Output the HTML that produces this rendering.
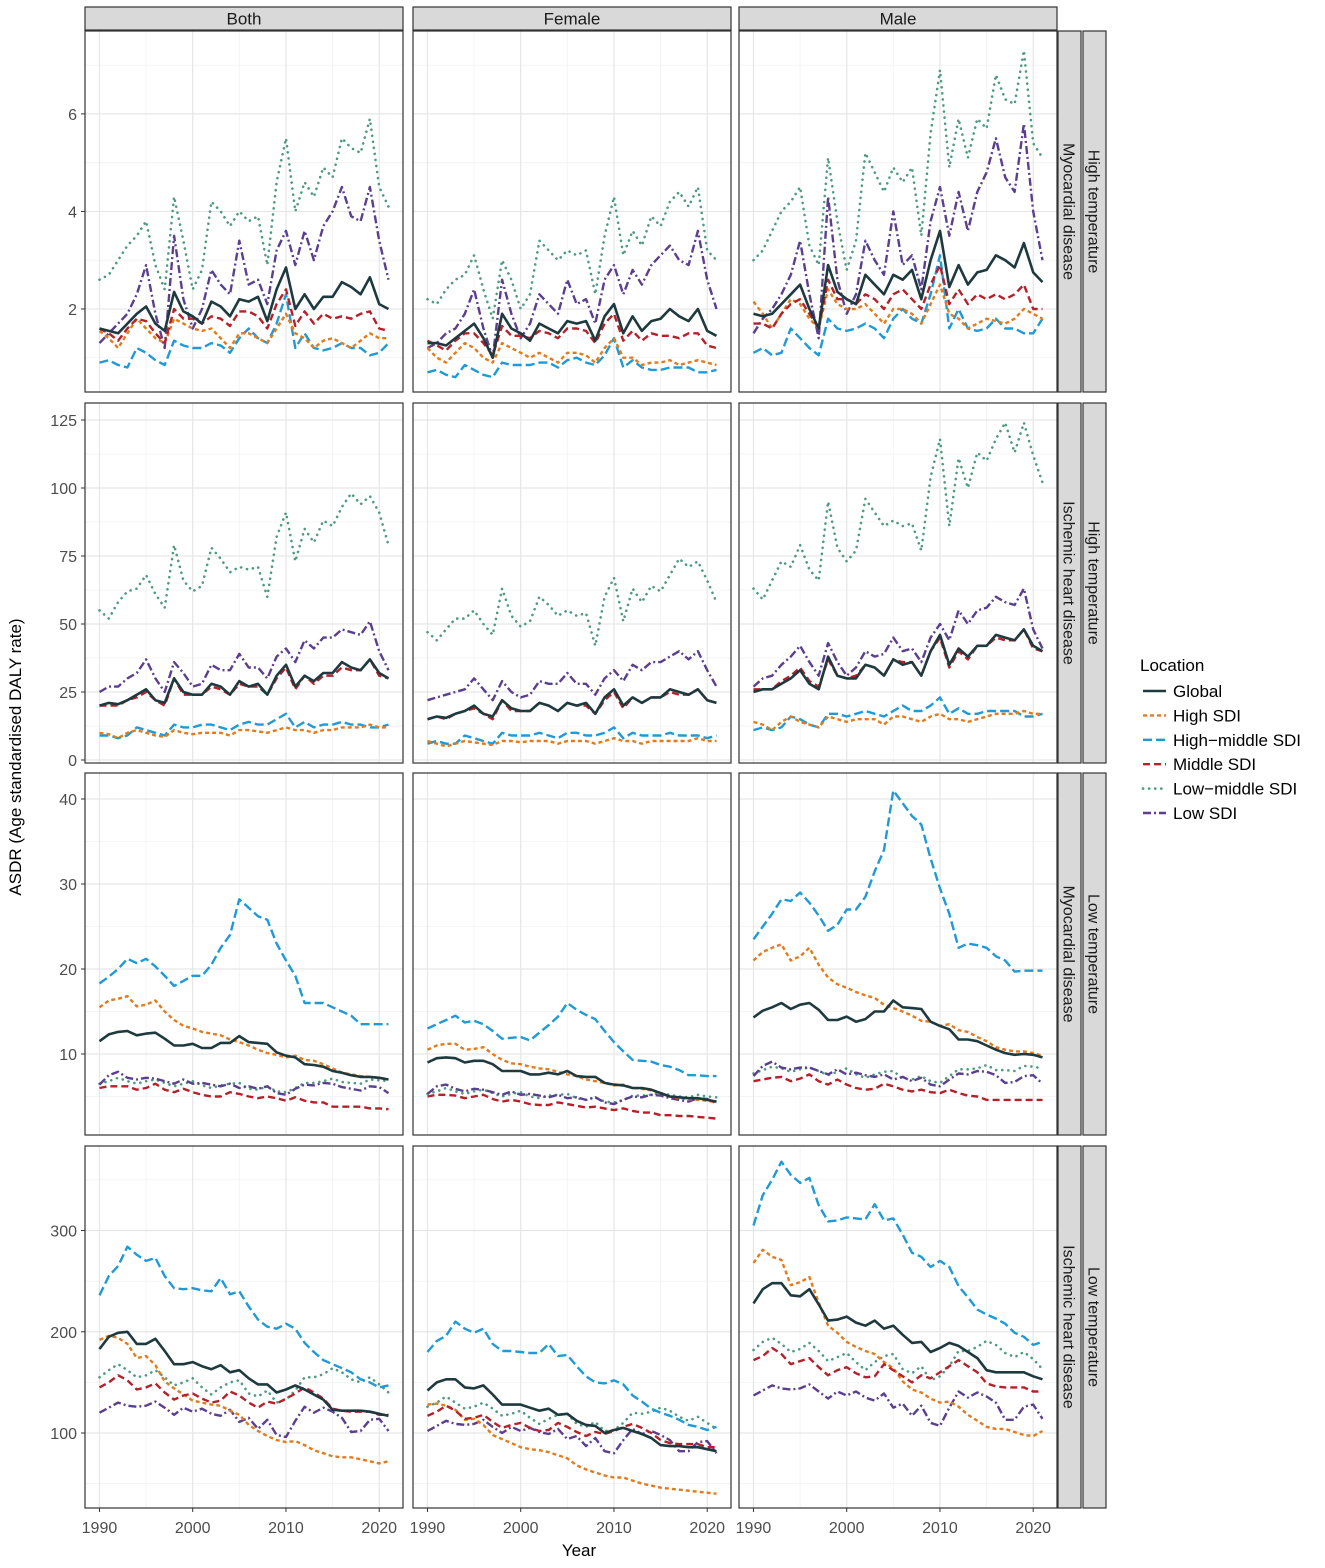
<!DOCTYPE html>
<html><head><meta charset="utf-8"><style>
body{margin:0;background:#fff;font-family:"Liberation Sans",Arial,sans-serif;}
svg text{font-family:"Liberation Sans",Arial,sans-serif;}
</style></head><body>
<svg id="chart" xmlns="http://www.w3.org/2000/svg" width="1325" height="1563" viewBox="0 0 1325 1563"></svg>
<script>
const years=[];for(let y=1990;y<=2021;y++)years.push(y);
const seriesNames=["Global","High SDI","High\u2212middle SDI","Middle SDI","Low\u2212middle SDI","Low SDI"];
const colNames=["Both","Female","Male"];
const rowCause=["Myocardial disease","Ischemic heart disease","Myocardial disease","Ischemic heart disease"];
const rowTemp=["High temperature","High temperature","Low temperature","Low temperature"];
const rowTicks=[[2,4,6],[0,25,50,75,100,125],[10,20,30,40],[100,200,300]];
const rowMinor=[[1,3,5,7],[12.5,37.5,62.5,87.5,112.5],[5,15,25,35],[50,150,250,350]];
const xTicks=[1990,2000,2010,2020];
// row 1: myocardial, high temp
const r1_both_global=[1.6,1.55,1.5,1.7,1.9,2.05,1.7,1.55,2.35,1.95,1.85,1.7,2.15,2.05,1.85,2.2,2.15,2.25,1.75,2.4,2.85,2.0,2.3,2.0,2.25,2.25,2.55,2.45,2.3,2.65,2.1,2.0];
const r1_both_high=[1.55,1.4,1.2,1.5,1.8,1.6,1.4,1.3,1.8,1.7,1.6,1.55,1.6,1.4,1.2,1.5,1.5,1.4,1.3,1.6,1.9,1.5,1.4,1.2,1.35,1.4,1.3,1.2,1.35,1.5,1.4,1.4];
const r1_both_hm=[0.9,0.95,0.85,0.8,1.2,1.1,0.95,0.85,1.35,1.25,1.2,1.2,1.3,1.25,1.1,1.4,1.6,1.4,1.3,1.7,2.3,1.2,1.5,1.2,1.15,1.2,1.3,1.2,1.2,1.05,1.1,1.3];
const r1_both_mid=[1.6,1.5,1.35,1.6,1.8,1.75,1.5,1.3,2.0,1.8,1.8,1.7,1.85,1.8,1.65,1.95,1.95,1.85,1.6,2.1,2.4,1.65,1.95,1.7,1.9,1.8,1.85,1.8,1.9,1.95,1.6,1.55];
const r1_both_lm=[2.6,2.7,3.0,3.3,3.5,3.8,2.9,2.4,4.3,3.4,2.4,2.8,4.2,4.0,3.7,4.0,3.8,3.9,2.9,4.6,5.5,4.0,4.6,4.3,4.9,4.7,5.5,5.3,5.2,5.9,4.5,4.1];
const r1_both_low=[1.3,1.5,1.7,1.9,2.3,2.9,1.9,1.2,3.5,2.2,1.6,2.0,2.8,2.5,2.3,3.4,2.5,2.6,2.1,3.2,3.6,2.9,3.6,3.0,3.7,4.0,4.5,3.9,3.8,4.5,3.4,2.6];
const r1_fem_global=[1.3,1.3,1.25,1.4,1.55,1.7,1.4,1.0,1.9,1.6,1.5,1.35,1.7,1.6,1.5,1.75,1.7,1.75,1.35,1.85,2.1,1.5,1.85,1.55,1.75,1.8,2.0,1.85,1.75,2.0,1.55,1.45];
const r1_fem_high=[1.2,1.0,0.9,1.1,1.3,1.2,1.0,0.9,1.3,1.2,1.1,1.0,1.1,1.0,0.9,1.1,1.1,1.05,0.9,1.2,1.4,1.0,1.0,0.85,0.9,0.9,0.95,0.85,0.9,0.95,0.9,0.85];
const r1_fem_hm=[0.7,0.75,0.65,0.6,0.85,0.75,0.65,0.6,0.9,0.85,0.85,0.85,0.9,0.9,0.8,0.95,1.0,0.9,0.85,1.05,1.4,0.8,0.95,0.8,0.75,0.75,0.8,0.8,0.8,0.7,0.7,0.75];
const r1_fem_mid=[1.35,1.25,1.15,1.35,1.5,1.5,1.3,1.05,1.65,1.45,1.45,1.4,1.55,1.5,1.4,1.6,1.6,1.55,1.3,1.7,1.9,1.35,1.55,1.35,1.5,1.45,1.45,1.4,1.5,1.5,1.25,1.2];
const r1_fem_lm=[2.2,2.1,2.4,2.6,2.7,3.1,2.4,1.8,3.0,2.6,2.0,2.3,3.4,3.2,3.0,3.2,3.1,3.2,2.3,3.5,4.3,3.1,3.6,3.3,3.9,3.7,4.2,4.4,4.1,4.5,3.2,3.0];
const r1_fem_low=[1.2,1.3,1.5,1.6,1.9,2.4,1.6,1.0,2.6,1.9,1.4,1.7,2.3,2.1,1.9,2.6,2.1,2.2,1.7,2.6,2.9,2.3,2.8,2.5,2.9,3.1,3.3,3.0,2.9,3.6,2.6,2.0];
const r1_male_global=[1.9,1.85,1.9,2.1,2.3,2.5,2.0,1.6,2.9,2.35,2.2,2.1,2.7,2.5,2.3,2.7,2.6,2.8,2.2,3.0,3.6,2.45,2.9,2.5,2.75,2.8,3.1,3.0,2.85,3.35,2.75,2.55];
const r1_male_high=[2.15,1.9,1.6,1.9,2.2,2.1,1.8,1.6,2.4,2.1,2.0,2.0,2.1,1.9,1.7,2.0,2.0,1.9,1.7,2.1,2.5,1.9,1.8,1.6,1.7,1.8,1.75,1.7,1.8,2.0,1.9,1.8];
const r1_male_hm=[1.1,1.2,1.05,1.1,1.6,1.4,1.2,1.05,1.8,1.6,1.55,1.6,1.7,1.6,1.4,1.8,2.0,1.8,1.7,2.3,3.1,1.6,2.0,1.6,1.55,1.6,1.8,1.6,1.6,1.5,1.5,1.8];
const r1_male_mid=[1.7,1.7,1.6,1.9,2.1,2.2,1.9,1.6,2.6,2.2,2.2,2.1,2.3,2.2,2.0,2.3,2.4,2.2,2.0,2.5,2.9,2.1,2.4,2.1,2.3,2.2,2.3,2.2,2.3,2.5,2.0,2.0];
const r1_male_lm=[3.0,3.2,3.6,4.0,4.2,4.5,3.3,2.9,5.1,3.8,2.8,3.4,5.2,4.8,4.4,4.9,4.6,4.9,3.5,5.6,6.9,4.9,5.9,5.1,5.9,5.7,6.8,6.3,6.2,7.3,5.4,5.1];
const r1_male_low=[1.5,1.8,2.0,2.3,2.7,3.4,2.3,1.4,4.3,2.6,1.9,2.3,3.4,3.0,2.7,4.0,2.9,3.1,2.4,3.8,4.5,3.5,4.4,3.6,4.4,4.8,5.5,4.7,4.4,5.8,4.0,3.0];
// row 2: IHD, high temp
const r2_both_global=[20,21,20.5,22,24,26,22,21,30,25,24,24,28,27,24,29,27,28,24,31,35,27,31,29,32,32,36,34,33,37,32,30];
const r2_both_high=[10,9.5,8,10,11,10,9,8.5,11,10,9.5,10,10,10,9,11,11,10.5,10,11,12,11,11,10,11,11,12,12,12,13,12,12];
const r2_both_hm=[9,9,8,9,12,11,10,9,13,12,12,13,13,12,11,13,14,13,13,15,17,12,14,12,13,13,14,13,13,12,12,13];
const r2_both_mid=[20,20,20,22,23,25,22,20,30,24,24,24,27,26,24,28,27,27,24,30,34,26,31,28,31,31,34,33,33,37,31,30];
const r2_both_lm=[55,52,58,62,63,68,61,56,79,66,62,64,78,74,69,71,70,71,60,82,91,73,85,80,88,86,93,98,94,97,91,79];
const r2_both_low=[25,27,27,30,32,37,30,25,36,32,27,28,35,33,33,39,34,34,30,38,41,36,44,41,45,45,48,47,46,51,40,33];
const r2_fem_global=[15,16,15.5,17,18,20,17,16,22,19,18,18,21,20,18,21,20,21,17,23,26,20,23,21,23,23,26,25,24,26,22,21];
const r2_fem_high=[7,6,5,6,7,6.5,6,5.5,7,7,6.5,7,7,7,6,7,7,7,6,7,8,7,7,6,7,7,7,7,7,8,7,7];
const r2_fem_hm=[6,7,6,6,9,8,7,6,10,9,9,9,10,9,8,10,10,9,9,10,12,8,10,9,9,9,10,9,9,9,8,9];
const r2_fem_mid=[15,16,15,17,18,19,17,15,22,18,18,18,21,20,18,21,20,20,17,22,25,19,23,21,23,23,25,24,24,26,22,21];
const r2_fem_lm=[47,44,48,52,52,55,50,46,63,53,49,51,60,57,53,55,53,54,42,60,67,51,63,58,64,62,68,74,71,73,66,58];
const r2_fem_low=[22,23,24,25,26,30,26,22,29,25,23,24,29,28,28,32,28,28,24,30,33,29,35,33,36,36,38,40,37,40,33,27];
const r2_male_global=[25,26,26,28,30,33,28,26,38,31,30,30,35,34,31,37,35,36,31,40,46,35,41,38,42,42,46,45,44,48,42,40];
const r2_male_high=[14,13,11,14,16,14,13,12,16,15,14,15,15,15,13,16,16,15,14,16,17,15,15,14,15,16,17,17,17,18,17,17];
const r2_male_hm=[11,12,11,12,16,15,13,12,17,17,16,17,18,17,16,18,20,18,18,20,23,17,19,17,17,18,18,18,18,16,16,17];
const r2_male_mid=[26,26,26,29,31,34,29,27,37,31,30,31,35,34,31,37,36,36,31,40,45,34,40,37,42,42,45,44,44,48,41,40];
const r2_male_lm=[63,59,66,73,71,79,70,66,95,78,73,77,96,91,86,88,86,87,77,104,118,86,111,100,113,110,118,124,113,124,112,102];
const r2_male_low=[27,30,31,35,38,42,36,31,43,36,31,34,40,38,39,45,40,41,36,45,50,44,55,50,55,56,60,58,57,63,48,41];
// row 3: myocardial, low temp
const r3_both_global=[11.5,12.3,12.6,12.7,12.2,12.4,12.5,11.8,11,11,11.2,10.7,10.7,11.3,11.3,12.1,11.4,11.3,11.2,10.2,9.8,9.6,8.8,8.7,8.5,8,7.8,7.5,7.3,7.3,7.2,7];
const r3_both_high=[15.5,16.3,16.5,16.8,15.6,15.8,16.3,15,14,13.3,13,12.6,12.4,12.2,11.7,11.4,11,10.5,10.1,9.9,9.6,9.8,9.3,9.2,8.8,8.3,7.8,7.6,7.4,7.3,7.2,7];
const r3_both_hm=[18.3,19.1,20,21.2,20.7,21.2,20.3,19.2,18,18.6,19.2,19.2,20.5,22.5,24,28.2,27.2,26.2,25.8,23,21,19.2,16,16,16,15.5,15,14.5,13.5,13.5,13.5,13.5];
const r3_both_mid=[6,6.2,6.2,6.2,5.8,6,6.5,5.8,5.5,5.9,5.5,5.2,5,5,5.5,5.3,5,4.8,5,4.8,4.5,4.9,4.5,4.3,4.3,3.8,3.8,3.8,3.8,3.6,3.6,3.5];
const r3_both_lm=[6.5,6.8,7.2,6.8,6.5,6.8,7.0,6.6,6.2,6.5,6.8,6.3,6.0,6.3,6.5,6.6,5.9,5.8,6.2,5.6,5.5,6.0,6.6,6.6,6.8,7.1,6.7,6.6,6.5,7.0,6.9,6.8];
const r3_both_low=[6.4,7.5,7.9,7.2,7,7.2,7.1,6.8,6.5,7.0,6.5,6.6,6.4,6.2,6.5,6.0,6.2,5.9,6.2,5.4,5.2,5.9,6.4,6.3,6.6,6.5,6.1,5.9,5.7,6.2,6.1,5.4];
const r3_fem_global=[9,9.5,9.6,9.5,9,9.2,9.2,8.8,8,8,8,7.6,7.6,7.8,7.6,8,7.4,7.3,7.3,6.6,6.4,6.3,6,6,5.8,5.4,5,4.9,4.8,4.8,4.6,4.4];
const r3_fem_high=[10.5,11,11.2,11.2,10.5,10.6,10.8,10,9.3,8.9,8.8,8.5,8.3,8.2,7.9,7.6,7.4,7,6.8,6.6,6.3,6.4,6,5.9,5.7,5.4,5,4.8,4.7,4.6,4.5,4.3];
const r3_fem_hm=[13,13.5,14,14.5,13.7,13.9,13.5,12.7,11.8,11.9,12,11.6,12.5,13.4,14.4,16,15.2,14.6,14.1,12.7,11.4,10.3,9.3,9.2,9.1,8.7,8.5,8.1,7.5,7.5,7.4,7.4];
const r3_fem_mid=[5,5.2,5.2,5.1,4.8,5,5.2,4.7,4.4,4.6,4.4,4.1,4,4,4.3,4.1,3.9,3.7,3.8,3.6,3.4,3.6,3.3,3.1,3.1,2.8,2.8,2.7,2.7,2.6,2.5,2.4];
const r3_fem_lm=[5.3,5.6,6,5.6,5.3,5.6,5.8,5.4,5,5.3,5.5,5,4.8,5.1,5.2,5.3,4.8,4.6,4.9,4.4,4.3,4.6,5.1,5.1,5.2,5.4,5.2,5,4.9,5.2,5,4.9];
const r3_fem_low=[5.3,6.2,6.4,5.9,5.6,5.9,5.8,5.5,5.2,5.6,5.2,5.3,5.1,4.9,5.2,4.8,4.9,4.6,4.9,4.3,4.1,4.6,5,4.9,5.2,5.1,4.8,4.6,4.4,4.8,4.7,4.2];
const r3_male_global=[14.3,15.1,15.5,16,15.3,15.8,16,15.2,14,14,14.4,13.8,14.1,15,15,16.3,15.5,15.4,15.3,13.8,13.3,12.9,11.7,11.7,11.5,11,10.5,10.1,9.9,10,9.9,9.6];
const r3_male_high=[21,22,22.5,22.9,21,21.5,22.5,20.5,19,18.2,17.8,17.3,16.9,16.6,15.8,15.4,15,14.5,13.9,13.8,13.3,13.5,12.8,12.6,12,11.5,10.8,10.5,10.3,10.3,10.1,9.8];
const r3_male_hm=[23.5,25,26.5,28.2,28,29,27.8,26.3,24.5,25.2,27,27,28.5,31.5,34,41,39.5,38,37,33,29.5,26.5,22.5,23,22.8,22.5,21.5,21,19.7,19.8,19.8,19.8];
const r3_male_mid=[6.8,7,7.2,7.3,6.8,7.1,7.6,6.8,6.4,7,6.4,6,5.8,5.9,6.5,6.2,5.8,5.6,5.8,5.5,5.4,5.8,5.4,5.1,5,4.6,4.6,4.6,4.6,4.6,4.6,4.6];
const r3_male_lm=[7.7,8.1,8.5,8.3,7.9,8.2,8.4,8,7.5,7.9,8.3,7.6,7.2,7.6,7.9,8,7.1,7,7.4,6.8,6.6,7.4,8.2,8.2,8.3,8.7,8.1,8.1,8,8.6,8.5,8.3];
const r3_male_low=[7.4,8.6,9.1,8.4,8.2,8.4,8.4,8,7.6,8.2,7.6,7.8,7.5,7.3,7.6,7,7.3,6.8,7.2,6.4,6.2,7,7.7,7.6,8,7.9,7.5,6.6,6.7,7.4,7.5,6.5];
// row 4: IHD, low temp
const r4_both_global=[183,195,199,200,188,188,193,181,168,168,170,166,163,167,160,162,154,148,148,140,143,147,143,138,133,123,122,122,122,121,119,117];
const r4_both_high=[192,196,194,188,174,176,167,151,144,138,132,130,128,127,122,118,108,102,97,93,91,92,88,83,80,77,76,76,74,72,70,72];
const r4_both_hm=[236,255,265,284,276,270,273,255,243,242,243,241,240,253,237,240,225,212,205,203,208,203,189,180,172,168,164,160,153,150,145,147];
const r4_both_mid=[145,150,157,152,143,145,149,140,133,137,139,134,130,132,141,137,130,125,131,129,134,139,145,140,134,124,122,121,121,121,118,118];
const r4_both_lm=[155,162,168,162,155,157,162,155,147,150,154,145,138,145,150,152,139,136,142,130,133,142,155,155,158,164,160,153,150,155,148,140];
const r4_both_low=[120,125,130,127,126,127,131,125,118,125,121,124,119,117,123,111,115,104,113,98,96,112,126,120,125,121,115,101,102,113,114,102];
const r4_fem_global=[142,150,153,153,145,144,147,138,128,128,128,125,122,124,118,119,112,108,107,100,103,105,102,99,95,88,87,87,86,86,84,82];
const r4_fem_high=[128,129,127,123,113,114,108,98,94,90,86,84,83,81,78,75,68,64,61,58,56,56,53,50,48,46,45,44,43,42,41,40];
const r4_fem_hm=[180,191,196,210,203,199,203,188,181,181,180,179,179,188,176,177,166,156,150,149,152,148,137,131,124,120,117,113,108,106,103,106];
const r4_fem_mid=[117,121,127,122,114,115,118,111,105,108,110,105,102,103,110,106,101,97,101,99,102,106,109,105,100,93,90,89,89,89,86,86];
const r4_fem_lm=[126,130,136,130,124,126,130,124,117,119,122,115,109,114,118,119,109,106,111,102,103,110,120,119,121,125,122,116,112,116,110,104];
const r4_fem_low=[102,107,112,109,108,109,113,106,100,106,102,105,101,99,104,94,97,87,95,82,80,93,104,99,102,98,93,82,82,91,92,80];
const r4_male_global=[228,242,248,248,236,235,242,227,211,212,215,209,206,211,203,206,197,189,190,180,184,189,186,180,174,162,160,160,160,160,156,153];
const r4_male_high=[268,281,274,271,246,249,254,229,206,199,190,185,181,178,170,164,151,143,140,134,130,131,126,118,112,106,104,104,101,98,97,102];
const r4_male_hm=[305,335,350,368,355,347,352,325,309,310,313,312,311,326,310,312,296,278,274,264,270,264,245,234,222,217,213,208,199,195,187,190];
const r4_male_mid=[172,176,184,178,168,171,174,165,157,162,165,159,155,156,168,162,156,150,157,154,160,166,172,166,160,149,146,145,145,145,141,141];
const r4_male_lm=[182,190,194,188,180,183,189,181,171,175,179,170,162,170,176,178,163,159,166,152,156,166,181,181,185,191,187,179,175,180,173,163];
const r4_male_low=[137,142,147,144,143,144,148,141,134,141,137,141,135,132,139,125,129,117,127,110,107,125,141,135,140,136,130,113,113,126,128,114];

const panelData=[
 [[r1_both_global,r1_both_high,r1_both_hm,r1_both_mid,r1_both_lm,r1_both_low],[r1_fem_global,r1_fem_high,r1_fem_hm,r1_fem_mid,r1_fem_lm,r1_fem_low],[r1_male_global,r1_male_high,r1_male_hm,r1_male_mid,r1_male_lm,r1_male_low]],
 [[r2_both_global,r2_both_high,r2_both_hm,r2_both_mid,r2_both_lm,r2_both_low],[r2_fem_global,r2_fem_high,r2_fem_hm,r2_fem_mid,r2_fem_lm,r2_fem_low],[r2_male_global,r2_male_high,r2_male_hm,r2_male_mid,r2_male_lm,r2_male_low]],
 [[r3_both_global,r3_both_high,r3_both_hm,r3_both_mid,r3_both_lm,r3_both_low],[r3_fem_global,r3_fem_high,r3_fem_hm,r3_fem_mid,r3_fem_lm,r3_fem_low],[r3_male_global,r3_male_high,r3_male_hm,r3_male_mid,r3_male_lm,r3_male_low]],
 [[r4_both_global,r4_both_high,r4_both_hm,r4_both_mid,r4_both_lm,r4_both_low],[r4_fem_global,r4_fem_high,r4_fem_hm,r4_fem_mid,r4_fem_lm,r4_fem_low],[r4_male_global,r4_male_high,r4_male_hm,r4_male_mid,r4_male_lm,r4_male_low]]
];
// layout / style
const colX=[85,413,739], panelW=318;
const rowY=[31,403,773,1146], rowH=[361,360,362,362];
const rowDomain=[[0.297,7.70],[-1.1,131.25],[0.47,43.06],[25.9,383.5]];
const xDomain=[1988.45,2022.55];
const styles=[
 {c:"#1e3a3f",w:2.6,d:"",cap:"butt"},
 {c:"#e27b1c",w:2.4,d:"4,3",cap:"butt"},
 {c:"#1f9ad6",w:2.4,d:"9,4",cap:"butt"},
 {c:"#b5202a",w:2.4,d:"7,4",cap:"butt"},
 {c:"#4f9a82",w:2.6,d:"0.1,6",cap:"round"},
 {c:"#5b3f8f",w:2.4,d:"8,3,2,3",cap:"butt"}
];
const drawOrder=[4,5,2,1,3,0];
const NS="http://www.w3.org/2000/svg";
const svg=document.getElementById('chart');
function el(tag,attrs,parent){const e=document.createElementNS(NS,tag);for(const k in attrs)e.setAttribute(k,attrs[k]);(parent||svg).appendChild(e);return e;}
function xs(c,v){return colX[c]+(v-xDomain[0])/(xDomain[1]-xDomain[0])*panelW;}
function ys(r,v){const d=rowDomain[r];return rowY[r]+rowH[r]-(v-d[0])/(d[1]-d[0])*rowH[r];}

for(let r=0;r<4;r++){
 for(let c=0;c<3;c++){
  const g=el('g',{});
  
  
  el('rect',{x:colX[c],y:rowY[r],width:panelW,height:rowH[r],fill:'#fff'},g);
  for(let yr=1995;yr<=2020;yr+=10){const x=xs(c,yr);el('line',{x1:x,x2:x,y1:rowY[r],y2:rowY[r]+rowH[r],stroke:'#f2f2f2','stroke-width':0.8},g);}
  rowMinor[r].forEach(v=>{const y=ys(r,v);if(y>rowY[r]&&y<rowY[r]+rowH[r])el('line',{x1:colX[c],x2:colX[c]+panelW,y1:y,y2:y,stroke:'#f2f2f2','stroke-width':0.8},g);});
  xTicks.forEach(v=>{const x=xs(c,v);el('line',{x1:x,x2:x,y1:rowY[r],y2:rowY[r]+rowH[r],stroke:'#e6e6e6','stroke-width':1.2},g);});
  rowTicks[r].forEach(v=>{const y=ys(r,v);el('line',{x1:colX[c],x2:colX[c]+panelW,y1:y,y2:y,stroke:'#e6e6e6','stroke-width':1.2},g);});
  drawOrder.forEach(s=>{
   const vals=panelData[r][c][s];
   const pts=vals.map((v,i)=>xs(c,years[i]).toFixed(1)+','+ys(r,v).toFixed(1)).join(' ');
   const st=styles[s];
   const pl=el('polyline',{points:pts,fill:'none',stroke:st.c,'stroke-width':st.w,'stroke-dasharray':st.d,'stroke-linecap':st.cap,'stroke-linejoin':'round'},g);
   
   
  });
  el('rect',{x:colX[c],y:rowY[r],width:panelW,height:rowH[r],fill:'none',stroke:'#333','stroke-width':1.2},g);
  if(c===0){
   rowTicks[r].forEach(v=>{const y=ys(r,v);
    el('line',{x1:colX[0]-4,x2:colX[0],y1:y,y2:y,stroke:'#333','stroke-width':1},g);
    const t=el('text',{x:colX[0]-8,y:y+6,'text-anchor':'end','font-size':16,fill:'#4d4d4d'},g);t.textContent=v;
    
    
   });
  }
  if(r===3){
   xTicks.forEach(v=>{const x=xs(c,v);
    el('line',{x1:x,x2:x,y1:1508,y2:1512,stroke:'#333','stroke-width':1},g);
    const t=el('text',{x:x,y:1533,'text-anchor':'middle','font-size':16,fill:'#4d4d4d'},g);t.textContent=v;
    
    
   });
  }
 }
 // right strips
 [[1058,rowCause[r],'strip-cause'],[1083,rowTemp[r],'strip-temperature']].forEach(([x,txt,nm])=>{
  const sg=el('g',{});
  
  
  el('rect',{x:x,y:rowY[r],width:23,height:rowH[r],fill:'#d9d9d9',stroke:'#333','stroke-width':1.2},sg);
  const cx=x+11.5, cy=rowY[r]+rowH[r]/2;
  const t=el('text',{x:cx,y:cy+6,'text-anchor':'middle','font-size':16,fill:'#1a1a1a',transform:`rotate(90 ${cx} ${cy})`},sg);
  t.textContent=txt;
 });
}
// top strips
colNames.forEach((n,c)=>{
 const sg=el('g',{});
 
 
 el('rect',{x:colX[c],y:7,width:panelW,height:23,fill:'#d9d9d9',stroke:'#333','stroke-width':1.2},sg);
 const t=el('text',{x:colX[c]+panelW/2,y:24.5,'text-anchor':'middle','font-size':17,fill:'#1a1a1a'},sg);t.textContent=n;
});
// axis titles
const yt=el('text',{x:21,y:757,'text-anchor':'middle','font-size':17,fill:'#000',transform:'rotate(-90 21 757)'});
yt.textContent='ASDR (Age standardised DALY rate)';


const xt=el('text',{x:579,y:1556,'text-anchor':'middle','font-size':17,fill:'#000'});
xt.textContent='Year';


// legend
const lg=el('g',{});


const lt=el('text',{x:1140,y:671,'font-size':17,fill:'#000'},lg);lt.textContent='Location';
seriesNames.forEach((n,i)=>{
 const y=691+i*24.4;
 const eg=el('g',{},lg);
 
 
 const st=styles[i];
 el('line',{x1:1143,x2:1166,y1:y,y2:y,stroke:st.c,'stroke-width':st.w,'stroke-dasharray':st.d,'stroke-linecap':st.cap},eg);
 const t=el('text',{x:1173,y:y+6,'font-size':17,fill:'#000'},eg);t.textContent=n;
});
</script>
</body></html>
